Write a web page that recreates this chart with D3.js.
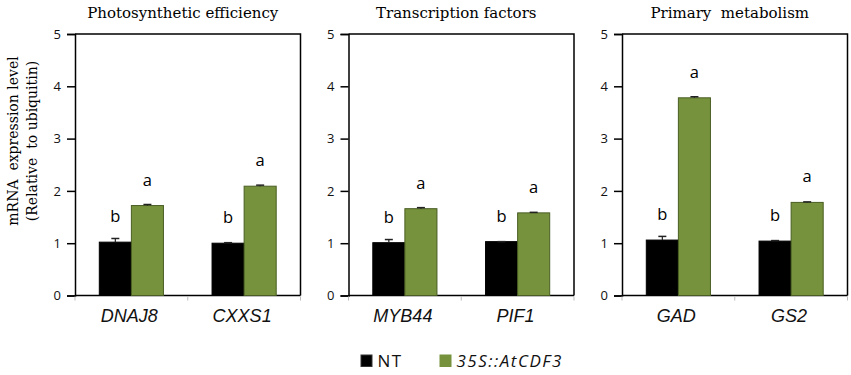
<!DOCTYPE html>
<html>
<head>
<meta charset="utf-8">
<script src="https://cdn.jsdelivr.net/npm/d3@7"></script>
<style>
  html, body { margin: 0; padding: 0; background: #fff; }
  svg { display: block; }
  text { white-space: pre; }
</style>
</head>
<body>
<div id="chart"></div>
<script>
// ---- data ----
const panelTitles = ["Photosynthetic efficiency", "Transcription factors", "Primary  metabolism"];
const panelGenes = [["DNAJ8", "CXXS1"], ["MYB44", "PIF1"], ["GAD", "GS2"]];
const seriesNames = ["NT", "35S::AtCDF3"];
const ntValues = [[1.02, 1.00], [1.01, 1.03], [1.06, 1.04]];
const ntErrors = [[0.07, 0.01], [0.06, 0.00], [0.07, 0.01]];
const oeValues = [[1.72, 2.09], [1.66, 1.58], [3.78, 1.78]];
const oeErrors = [[0.02, 0.02], [0.02, 0.01], [0.02, 0.01]];
const ntLetters = [["b", "b"], ["b", "b"], ["b", "b"]];
const oeLetters = [["a", "a"], ["a", "a"], ["a", "a"]];
const yTicks = [0, 1, 2, 3, 4, 5];
const yLabelLines = ["mRNA  expression level", "(Relative  to ubiquitin)"];

// ---- layout ----
const W = 851, H = 375;
const panelLeft = [75, 348.5, 622];
const panelW = 225.5;
const plotTop = 34, plotBottom = 295.5;
const colors = { "NT": "#000000", "35S::AtCDF3": "#76923c" };
const strokes = { "NT": "#000000", "35S::AtCDF3": "#4a5e24" };
const serif = "DejaVu Serif, serif";
const sans = "Open Sans, sans-serif";

const svg = d3.select("#chart").append("svg").attr("width", W).attr("height", H);

const y = d3.scaleLinear().domain([0, 5]).range([plotBottom, plotTop]);

panelTitles.forEach((title, pi) => {
  const g = svg.append("g").attr("transform", `translate(${panelLeft[pi]},0)`);
  const genes = panelGenes[pi];
  const x0 = d3.scaleBand().domain(genes).range([0, panelW]).paddingInner(0.431).paddingOuter(0.2155);
  const x1 = d3.scaleBand().domain(seriesNames).range([0, x0.bandwidth()]);

  // frame (top & right)
  g.append("path")
    .attr("d", `M0,${plotTop}H${panelW}V${plotBottom}`)
    .attr("fill", "none").attr("stroke", "#000").attr("stroke-width", 1.5);

  // y axis
  const yAxis = d3.axisLeft(y).tickValues(yTicks).tickSize(8).tickPadding(6).tickFormat(d3.format("d"));
  const ya = g.append("g").call(yAxis);
  ya.select(".domain").attr("stroke-width", 1.5);
  ya.selectAll(".tick line").attr("stroke-width", 1.5);
  ya.selectAll("text").attr("font-family", sans).attr("font-size", 13).attr("fill", "#111");

  // x axis
  const xa = g.append("g").attr("transform", `translate(0,${plotBottom})`);
  xa.append("line").attr("x1", 0).attr("x2", panelW).attr("stroke", "#000").attr("stroke-width", 1.5);
  const sep = [0, (x0(genes[0]) + x0.bandwidth() / 2 + x0(genes[1]) + x0.bandwidth() / 2) / 2, panelW];
  xa.selectAll("line.sep").data(sep).join("line").attr("class", "sep")
    .attr("x1", d => d).attr("x2", d => d).attr("y1", 1).attr("y2", 5)
    .attr("stroke", "#bbb").attr("stroke-width", 1);
  xa.selectAll("text.cat").data(genes).join("text").attr("class", "cat")
    .attr("x", d => x0(d) + x0.bandwidth() / 2 - 2).attr("y", 26.5)
    .attr("text-anchor", "middle")
    .attr("font-family", "Liberation Sans, Arial, sans-serif").attr("font-style", "italic")
    .attr("font-size", 18).attr("fill", "#111").text(d => d);

  // bars
  const rows = [];
  genes.forEach((gene, gi) => {
    rows.push({ gene, s: "NT", v: ntValues[pi][gi], e: ntErrors[pi][gi], l: ntLetters[pi][gi] });
    rows.push({ gene, s: "35S::AtCDF3", v: oeValues[pi][gi], e: oeErrors[pi][gi], l: oeLetters[pi][gi] });
  });
  const bx = d => x0(d.gene) + x1(d.s);
  g.selectAll("rect.bar").data(rows).join("rect").attr("class", "bar")
    .attr("x", bx).attr("width", x1.bandwidth())
    .attr("y", d => y(d.v)).attr("height", d => y(0) - y(d.v))
    .attr("fill", d => colors[d.s]).attr("stroke", d => strokes[d.s]).attr("stroke-width", 1);

  // error bars
  const eb = g.selectAll("g.err").data(rows).join("g").attr("class", "err");
  eb.append("line")
    .attr("x1", d => bx(d) + x1.bandwidth() / 2).attr("x2", d => bx(d) + x1.bandwidth() / 2)
    .attr("y1", d => y(d.v)).attr("y2", d => y(d.v + d.e))
    .attr("stroke", "#222").attr("stroke-width", 1.2);
  eb.append("line")
    .attr("x1", d => bx(d) + x1.bandwidth() / 2 - 4).attr("x2", d => bx(d) + x1.bandwidth() / 2 + 4)
    .attr("y1", d => y(d.v + d.e)).attr("y2", d => y(d.v + d.e))
    .attr("stroke", "#222").attr("stroke-width", 1.5);

  // letters
  g.selectAll("text.sig").data(rows).join("text").attr("class", "sig")
    .attr("x", d => bx(d) + x1.bandwidth() / 2).attr("y", d => y(d.v) - 20)
    .attr("text-anchor", "middle")
    .attr("font-family", sans).attr("font-size", 16.5).attr("font-weight", 500).attr("fill", "#000")
    .text(d => d.l);

  // title
  g.append("text").attr("x", panelW / 2 - 5).attr("y", 17.5)
    .attr("text-anchor", "middle")
    .attr("font-family", serif).attr("font-size", 15)
    .attr("fill", "#000").text(title);
});

// y label
const yl = svg.append("g").attr("transform", `translate(0,141) rotate(-90)`);
yl.selectAll("text").data(yLabelLines).join("text")
  .attr("x", 0).attr("y", (d, i) => 18 + i * 18.5)
  .attr("text-anchor", "middle")
  .attr("font-family", serif).attr("font-size", 14)
  .attr("fill", "#000").text(d => d);

// legend
const legend = svg.append("g").attr("transform", "translate(361,355)");
const legX = [0, 79];
seriesNames.forEach((s, i) => {
  legend.append("rect").attr("x", legX[i]).attr("y", 0).attr("width", 11).attr("height", 11.5)
    .attr("fill", colors[s]).attr("stroke", s === "NT" ? "#333" : "#76923c").attr("stroke-width", 1);
  legend.append("text").attr("x", legX[i] + 16.5).attr("y", 11.5)
    .attr("font-family", sans).attr("font-size", 17)
    .attr("letter-spacing", 1.5)
    .attr("font-style", i === 1 ? "italic" : "normal")
    .attr("fill", "#111").text(s);
});
</script>
</body>
</html>
